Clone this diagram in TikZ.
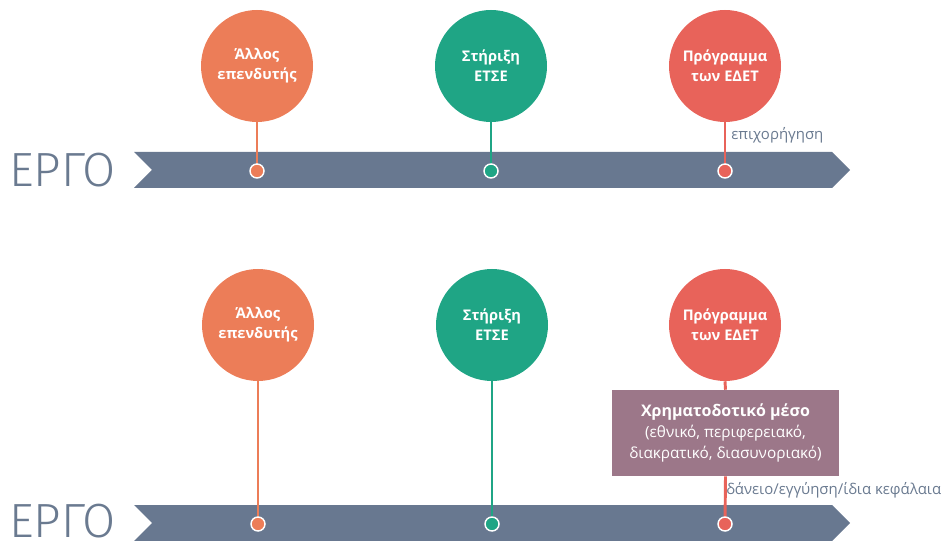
\documentclass[tikz,border=0pt]{standalone}
\usepackage{fontspec}
\setmainfont{Open Sans}
\newfontfamily\lightfont{Fira Sans}[UprightFont={* Light}]
\definecolor{corange}{HTML}{EC7D58}
\definecolor{cgreen}{HTML}{1FA585}
\definecolor{cred}{HTML}{E8635A}
\definecolor{cband}{HTML}{687890}
\definecolor{cmauve}{HTML}{9C7789}
\definecolor{ctext}{HTML}{6A7A90}
\tikzset{
  bubble/.style={circle, minimum size=84pt, inner sep=0pt, fill=#1, text=white,
    font=\fontsize{11}{15}\selectfont\bfseries, align=center},
  dotnode/.style={circle, minimum size=10.5pt, inner sep=0pt, fill=#1, draw=white, line width=1.1pt},
  stem/.style={draw=#1, line width=2.2pt},
  band/.style={fill=cband},
  ergo/.style={text=ctext, font=\lightfont\fontsize{36}{36}\selectfont, inner sep=0pt, anchor=base west},
  lbl/.style={text=ctext, font=\fontsize{11.2}{13}\selectfont, inner sep=0pt, anchor=west},
  infobox/.style={fill=cmauve, text=white, minimum width=170.25pt, minimum height=64.5pt,
    inner sep=0pt, align=center, font=\fontsize{11.5}{15.75}\selectfont}
}
\begin{document}
\begin{tikzpicture}[x=0.75pt,y=-0.75pt]
\useasboundingbox (0,0) rectangle (949,541);
% bands
\fill[band] (134,152) -- (832,152) -- (850,170) -- (832,188) -- (134,188) -- (152,170) -- cycle;
\fill[band] (134,505) -- (832,505) -- (850,523) -- (832,541) -- (134,541) -- (152,523) -- cycle;
\node[ergo] (e1) at (9,187) {ΕΡΓΟ};
\node[ergo] (e2) at (9,537) {ΕΡΓΟ};
% top row
\node[bubble=corange] (a1) at (257,66) {Άλλος\\επενδυτής};
\node[bubble=cgreen] (b1) at (491,66) {Στήριξη\\ΕΤΣΕ};
\node[bubble=cred] (c1) at (725,66) {Πρόγραμμα\\των ΕΔΕΤ};
\coordinate (da1) at (257,171);
\coordinate (db1) at (491,171);
\coordinate (dc1) at (725,171);
\draw[stem=corange] (a1.south) -- (da1);
\draw[stem=cgreen] (b1.south) -- (db1);
\draw[stem=cred] (c1.south) -- (dc1);
\node[dotnode=corange] (pa1) at (da1) {};
\node[dotnode=cgreen] (pb1) at (db1) {};
\node[dotnode=cred] (pc1) at (dc1) {};
\node[lbl] (l1) at (731,135) {επιχορήγηση};
% bottom row
\node[bubble=corange] (a2) at (258,325) {Άλλος\\επενδυτής};
\node[bubble=cgreen] (b2) at (492,325) {Στήριξη\\ΕΤΣΕ};
\node[bubble=cred] (c2) at (725,325) {Πρόγραμμα\\των ΕΔΕΤ};
\coordinate (da2) at (258,524);
\coordinate (db2) at (492,524);
\coordinate (dc2) at (725,524);
\draw[stem=corange] (a2.south) -- (da2);
\draw[stem=cgreen] (b2.south) -- (db2);
\node[infobox] (box) at (725.5,433) {{\fontsize{12}{15.75}\selectfont\textbf{Χρηματοδοτικό μέσο}}\\(εθνικό, περιφερειακό,\\διακρατικό, διασυνοριακό)};
\draw[stem=cred] (c2.south) -- (box.north);
\draw[stem=cred] (box.south) -- (dc2);
\node[dotnode=corange] (pa2) at (da2) {};
\node[dotnode=cgreen] (pb2) at (db2) {};
\node[dotnode=cred] (pc2) at (dc2) {};
\node[lbl] (l2) at (726,490) {δάνειο/εγγύηση/ίδια κεφάλαια};
\end{tikzpicture}
\end{document}
